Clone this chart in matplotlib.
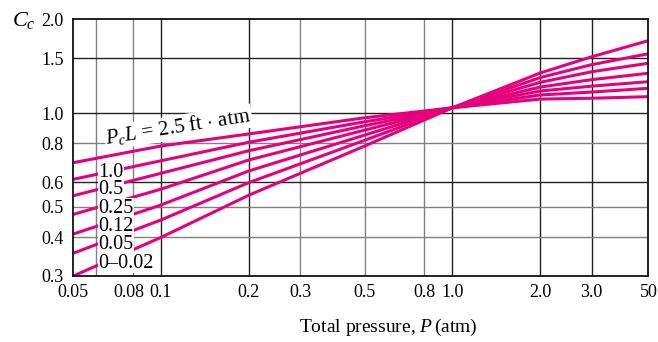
import matplotlib.pyplot as plt
from matplotlib.ticker import FixedLocator, FixedFormatter, NullLocator
from matplotlib.transforms import ScaledTranslation

plt.rcParams['font.family'] = ['Liberation Serif', 'DejaVu Serif']
plt.rcParams['mathtext.fontset'] = 'custom'
plt.rcParams['mathtext.rm'] = 'Liberation Serif'
plt.rcParams['mathtext.it'] = 'Liberation Serif:italic'

# total pressure (atm) where the curves were read; last point is the right edge
pressure = [0.05, 0.1, 0.2, 0.5, 1.0, 2.0, 3.0, 4.7]

# Cc for each PcL (ft·atm)
cc_2_5 = [0.693, 0.784, 0.857, 0.966, 1.04, 1.109, 1.116, 1.129]
cc_1_0 = [0.613, 0.703, 0.806, 0.938, 1.04, 1.143, 1.168, 1.201]
cc_0_5 = [0.543, 0.641, 0.757, 0.911, 1.04, 1.177, 1.220, 1.261]
cc_0_25 = [0.473, 0.570, 0.707, 0.882, 1.04, 1.212, 1.280, 1.342]
cc_0_12 = [0.409, 0.507, 0.652, 0.850, 1.04, 1.255, 1.357, 1.445]
cc_0_05 = [0.355, 0.454, 0.598, 0.818, 1.04, 1.300, 1.430, 1.550]
cc_0_02 = [0.300, 0.399, 0.545, 0.784, 1.04, 1.345, 1.515, 1.708]

curve_labels = ['1.0', '0.5', '0.25', '0.12', '0.05', '0–0.02']

x_ticks = [0.05, 0.08, 0.1, 0.2, 0.3, 0.5, 0.8, 1.0, 2.0, 3.0, 4.7]
x_tick_labels = ['0.05', '0.08', '0.1', '0.2', '0.3', '0.5', '0.8', '1.0', '2.0', '3.0', '50']
y_ticks = [0.3, 0.4, 0.5, 0.6, 0.8, 1.0, 1.5, 2.0]
y_tick_labels = ['0.3', '0.4', '0.5', '0.6', '0.8', '1.0', '1.5', '2.0']

x_grid = [0.06, 0.08, 0.1, 0.2, 0.3, 0.5, 0.8, 1.0, 2.0, 3.0]
x_grid_dark = [False, False, True, True, False, False, False, True, True, True]
y_grid = [0.4, 0.5, 0.6, 0.8, 1.0, 1.5]
y_grid_dark = [False, False, True, False, True, True]

magenta = '#E5007D'

fig = plt.figure(figsize=(6.58, 3.42), dpi=100)
ax = fig.add_axes([0.1114, 0.193, 0.8739, 0.7506])
ax.set_xscale('log')
ax.set_yscale('log')
ax.set_xlim(0.05, 4.7)
ax.set_ylim(0.3, 2.0)

for xv, dark in zip(x_grid, x_grid_dark):
    ax.axvline(xv, color='#222222' if dark else '#808080', lw=1.0, zorder=1)
for yv, dark in zip(y_grid, y_grid_dark):
    ax.axhline(yv, color='#222222' if dark else '#808080', lw=1.0, zorder=1)

for cc in [cc_2_5, cc_1_0, cc_0_5, cc_0_25, cc_0_12, cc_0_05, cc_0_02]:
    ax.plot(pressure, cc, color=magenta, lw=2.2, zorder=2,
            solid_joinstyle='round', solid_capstyle='butt')

# labels sit on white boxes that break the lines
ax.text(0.058, 0.512, r'$P_cL$ = 2.5 ft $\cdot$ atm', transform=ax.transAxes,
        fontsize=15, rotation=9, rotation_mode='anchor', ha='left', va='baseline',
        bbox=dict(facecolor='white', edgecolor='none', pad=0.8), zorder=3)
label_y = [0.3845, 0.3183, 0.2466, 0.1753, 0.104, 0.030]
for lab, yy in zip(curve_labels, label_y):
    ax.text(0.044, yy, lab, transform=ax.transAxes, fontsize=14.5,
            ha='left', va='baseline',
            bbox=dict(facecolor='white', edgecolor='none', pad=0.1), zorder=3)

ax.xaxis.set_major_locator(FixedLocator(x_ticks))
ax.xaxis.set_major_formatter(FixedFormatter(x_tick_labels))
ax.xaxis.set_minor_locator(NullLocator())
ax.yaxis.set_major_locator(FixedLocator(y_ticks))
ax.yaxis.set_major_formatter(FixedFormatter(y_tick_labels))
ax.yaxis.set_minor_locator(NullLocator())
ax.tick_params(axis='both', length=0, labelsize=13)
ax.tick_params(axis='x', pad=6)
ax.tick_params(axis='y', pad=7)

# nudge the crowded 0.08 label left a little, as in the original
lbl = ax.get_xticklabels()[1]
lbl.set_transform(lbl.get_transform() + ScaledTranslation(-3 / 72, 0, fig.dpi_scale_trans))

for sp in ax.spines.values():
    sp.set_linewidth(1.3)
    sp.set_color('#111111')

fig.text(388 / 658, 1 - 327 / 342, r'Total pressure, $P\,$(atm)', fontsize=14,
         ha='center', va='center')
fig.text(12 / 658, 1 - 26 / 342, r'$C_c$', fontsize=16, ha='left', va='baseline')

fig.savefig('out.png', dpi=100)
